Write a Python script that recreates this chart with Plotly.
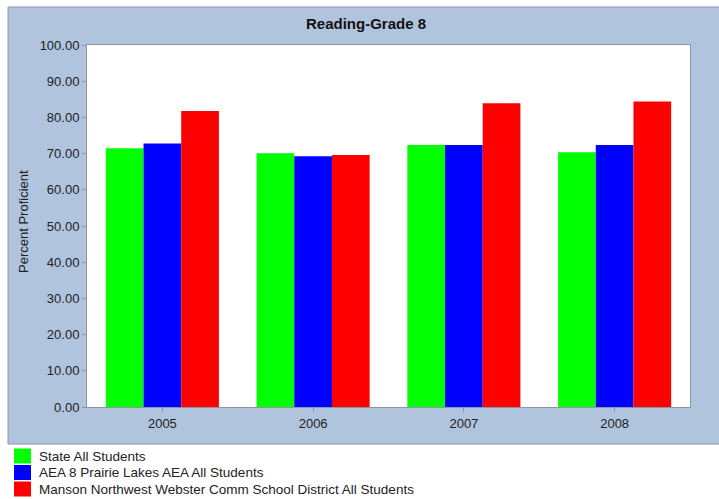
import plotly.graph_objects as go

# ── Data ──────────────────────────────────────────────────────────────────────
years = ["2005", "2006", "2007", "2008"]
state_all = [71.5, 70.1, 72.4, 70.4]
aea8_all = [72.8, 69.3, 72.4, 72.4]
manson_all = [81.8, 69.6, 83.9, 84.4]

series_names = [
    "State All Students",
    "AEA 8 Prairie Lakes AEA All Students",
    "Manson Northwest Webster Comm School District All Students",
]
series_colors = ["#00FF00", "#0000FF", "#FF0000"]
y_ticks = [0, 10, 20, 30, 40, 50, 60, 70, 80, 90, 100]

_FONT = dict(family="Arial, Liberation Sans, sans-serif", size=13, color="#222222")
_LEG_FONT = dict(_FONT, size=13.5)
_PANEL = "#B0C4DE"
_EDGE = "#8A96A6"

# plot area in pixels (used for converting layout positions to paper coords)
_L, _R, _T, _B = 87, 690, 45, 407
_W, _H = _R - _L, _B - _T


def px_x(x):
    return (x - _L) / _W


def px_y(y):
    return (_B - y) / _H


fig = go.Figure()
for name, vals, col in zip(series_names, [state_all, aea8_all, manson_all], series_colors):
    fig.add_trace(go.Bar(
        x=years, y=vals, name=name,
        marker=dict(color=col, line=dict(width=0)),
        hovertemplate="%{x}: %{y:.2f}<extra>" + name + "</extra>",
    ))

# panel + white plot area (shapes below traces sit over plot_bgcolor)
shapes = [
    dict(type="rect", xref="paper", yref="paper", layer="below",
         x0=px_x(8), x1=px_x(722), y0=px_y(444), y1=px_y(7),
         fillcolor=_PANEL, line=dict(color=_EDGE, width=1)),
    dict(type="rect", xref="paper", yref="paper", layer="below",
         x0=0, x1=1, y0=0, y1=1,
         fillcolor="white", line=dict(width=0)),
]

annotations = [
    dict(text="Percent Proficient", textangle=-90,
         xref="paper", yref="paper", x=px_x(23), y=px_y(222),
         xanchor="center", yanchor="middle", showarrow=False, font=_FONT),
]

# legend drawn below the panel
for i, (name, col) in enumerate(zip(series_names, series_colors)):
    yc = 456 + i * 16.5
    shapes.append(dict(
        type="rect", xref="paper", yref="paper",
        x0=px_x(14), x1=px_x(31), y0=px_y(yc + 7.5), y1=px_y(yc - 7.5),
        fillcolor=col, line=dict(width=0),
    ))
    annotations.append(dict(
        text=name, xref="paper", yref="paper", x=px_x(37), y=px_y(yc),
        xanchor="left", yanchor="middle", showarrow=False, font=_LEG_FONT,
    ))

fig.update_layout(
    width=719, height=499,
    font=_FONT,
    paper_bgcolor="white",
    plot_bgcolor="white",
    margin=dict(l=_L, r=719 - _R, t=_T, b=499 - _B, autoexpand=False),
    barmode="group",
    bargap=0.25,
    bargroupgap=0,
    showlegend=False,
    title=dict(
        text="<b>Reading-Grade 8</b>",
        x=366 / 719, xanchor="center",
        y=1 - 24 / 499, yanchor="middle",
        font=dict(size=15, color="#111111"),
    ),
    xaxis=dict(
        showgrid=False, zeroline=False,
        showline=True, linecolor=_EDGE, linewidth=1, mirror=True,
        ticks="outside", ticklen=4, tickcolor=_EDGE,
    ),
    yaxis=dict(
        range=[0, 100], tickvals=y_ticks, tickformat=".2f",
        showgrid=False, zeroline=False,
        showline=True, linecolor=_EDGE, linewidth=1, mirror=True,
        ticks="outside", ticklen=4, tickcolor=_EDGE,
    ),
    shapes=shapes,
    annotations=annotations,
)

# drop the browser's default body margin so the figure sits at the window corner
fig.write_html(
    "out.html",
    config={"displayModeBar": False},
    post_script="document.body.style.margin = '0';",
)
